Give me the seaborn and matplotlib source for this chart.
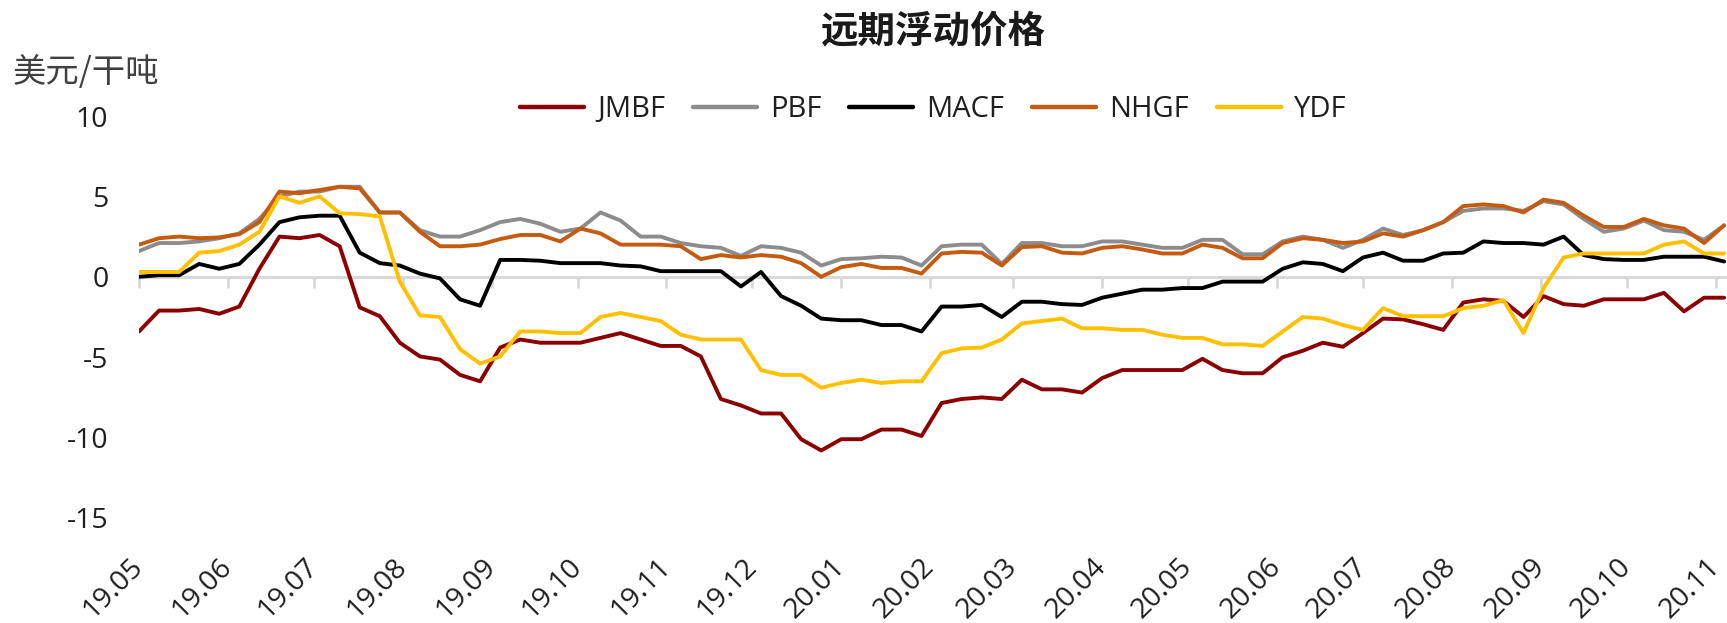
import pandas as pd
import matplotlib
matplotlib.use("Agg")
import matplotlib.pyplot as plt
import matplotlib.dates as mdates
import seaborn as sns

# ----------------------------- #
# Data (weekly readings, USD/dmt)
# ----------------------------- #
dates = pd.date_range("2019-05-01", periods=80, freq="7D")

jmbf = [-3.4, -2.1, -2.1, -2.0, -2.3, -1.85, 0.5, 2.5, 2.4, 2.6, 1.9, -1.9, -2.45, -4.1, -4.95, -5.15, -6.1, -6.5, -4.4,
        -3.9, -4.1, -4.1, -4.1, -3.8, -3.5, -3.9, -4.3, -4.3, -4.95, -7.6, -8.0, -8.5, -8.5, -10.1, -10.8, -10.1, -10.1, -9.5, -9.5,
        -9.9, -7.85, -7.6, -7.5, -7.6, -6.4, -7.0, -7.0, -7.2, -6.3, -5.8, -5.8, -5.8, -5.8, -5.1, -5.8, -6.0, -6.0, -5.0, -4.6,
        -4.1, -4.35, -3.5, -2.6, -2.65, -2.95, -3.3, -1.6, -1.4, -1.5, -2.5, -1.2, -1.7, -1.8, -1.4, -1.4, -1.4, -1.0, -2.15, -1.3, -1.3]

pbf = [1.6, 2.1, 2.1, 2.2, 2.4, 2.7, 3.6, 5.0, 5.3, 5.3, 5.6, 5.6, 4.0, 4.0, 2.9, 2.5, 2.5, 2.9, 3.4,
       3.6, 3.3, 2.8, 3.0, 4.0, 3.5, 2.5, 2.5, 2.1, 1.9, 1.8, 1.3, 1.9, 1.8, 1.5, 0.7, 1.1, 1.15, 1.25, 1.2,
       0.7, 1.9, 2.0, 2.0, 0.8, 2.1, 2.1, 1.9, 1.9, 2.2, 2.2, 2.0, 1.8, 1.8, 2.3, 2.3, 1.4, 1.4, 2.2, 2.5,
       2.3, 1.8, 2.3, 3.0, 2.6, 2.9, 3.4, 4.1, 4.25, 4.25, 4.1, 4.7, 4.5, 3.6, 2.8, 3.0, 3.5, 2.9, 2.8, 2.3, 3.2]

macf = [0.0, 0.1, 0.1, 0.8, 0.5, 0.8, 2.0, 3.4, 3.7, 3.8, 3.8, 1.5, 0.85, 0.7, 0.2, -0.1, -1.4, -1.8, 1.05,
        1.05, 1.0, 0.85, 0.85, 0.85, 0.7, 0.65, 0.35, 0.35, 0.35, 0.35, -0.6, 0.3, -1.2, -1.8, -2.6, -2.7, -2.7, -3.0, -3.0,
        -3.4, -1.85, -1.85, -1.75, -2.5, -1.55, -1.55, -1.7, -1.75, -1.3, -1.05, -0.8, -0.8, -0.7, -0.7, -0.3, -0.3, -0.3, 0.5, 0.9,
        0.8, 0.35, 1.2, 1.5, 1.0, 1.0, 1.45, 1.5, 2.2, 2.1, 2.1, 2.0, 2.5, 1.35, 1.1, 1.05, 1.05, 1.25, 1.25, 1.25, 0.95]

nhgf = [2.0, 2.4, 2.5, 2.4, 2.45, 2.65, 3.4, 5.3, 5.2, 5.4, 5.6, 5.5, 4.0, 4.0, 2.8, 1.9, 1.9, 2.0, 2.35,
        2.6, 2.6, 2.2, 3.0, 2.7, 2.0, 2.0, 2.0, 1.9, 1.1, 1.35, 1.2, 1.35, 1.25, 0.85, 0.0, 0.6, 0.8, 0.55, 0.55,
        0.2, 1.45, 1.55, 1.5, 0.7, 1.85, 1.9, 1.5, 1.45, 1.8, 1.9, 1.7, 1.45, 1.45, 2.0, 1.8, 1.15, 1.15, 2.1, 2.4,
        2.3, 2.1, 2.2, 2.7, 2.5, 2.9, 3.4, 4.4, 4.5, 4.4, 4.0, 4.8, 4.6, 3.8, 3.1, 3.1, 3.6, 3.2, 3.0, 2.1, 3.2]

ydf = [0.3, 0.3, 0.3, 1.5, 1.6, 2.0, 2.8, 5.0, 4.6, 5.0, 3.95, 3.9, 3.75, -0.3, -2.4, -2.5, -4.5, -5.4, -4.95,
       -3.4, -3.4, -3.5, -3.5, -2.5, -2.25, -2.5, -2.75, -3.6, -3.9, -3.9, -3.9, -5.8, -6.1, -6.1, -6.9, -6.6, -6.4, -6.6, -6.5,
       -6.5, -4.75, -4.45, -4.4, -3.9, -2.9, -2.75, -2.6, -3.2, -3.2, -3.3, -3.3, -3.6, -3.8, -3.8, -4.2, -4.2, -4.3, -3.4, -2.5,
       -2.6, -3.0, -3.3, -1.95, -2.45, -2.45, -2.45, -1.95, -1.8, -1.45, -3.5, -0.7, 1.2, 1.45, 1.45, 1.45, 1.45, 2.0, 2.2, 1.45, 1.45]

series_names = ["JMBF", "PBF", "MACF", "NHGF", "YDF"]
colors = ["#8B0000", "#8C8C8C", "#000000", "#C55A11", "#FFC000"]

month_ticks = pd.date_range("2019-05-01", "2020-11-01", freq="MS")
month_labels = [d.strftime("%y.%m") for d in month_ticks]
y_ticks = [-15, -10, -5, 0, 5, 10]

df = pd.DataFrame({"date": dates, "JMBF": jmbf, "PBF": pbf, "MACF": macf, "NHGF": nhgf, "YDF": ydf})
df_long = df.melt(id_vars="date", var_name="series", value_name="value")

# ----------------------------- #
# Plot
# ----------------------------- #
sns.set_style("white")
plt.rcParams["font.family"] = ["Open Sans", "Noto Sans CJK SC", "DejaVu Sans"]
plt.rcParams["axes.unicode_minus"] = False

fig = plt.figure(figsize=(17.27, 6.23), dpi=100)
ax = fig.add_axes([139 / 1727, 1 - 518 / 623, 1 - 139 / 1727, (518 - 116) / 623])

sns.lineplot(data=df_long, x="date", y="value", hue="series", hue_order=series_names,
             palette=colors, linewidth=2.8, ax=ax)

ax.set_xlim(pd.Timestamp("2019-05-01"), pd.Timestamp("2020-11-05"))
ax.set_ylim(-15, 10)
ax.set_yticks(y_ticks)
ax.set_xticks(month_ticks)
ax.set_xticklabels(month_labels, rotation=45, ha="right", va="center", rotation_mode="anchor")
ax.tick_params(axis="x", length=0, pad=32, labelsize=20.5, labelcolor="#1f1f1f")
ax.tick_params(axis="y", length=0, pad=22, labelsize=20.5, labelcolor="#1f1f1f")
ax.set_xlabel("")
ax.set_ylabel("")
ax.grid(False)
for s in ax.spines.values():
    s.set_visible(False)

# zero line with monthly tick marks
sec = ax.secondary_xaxis(0, transform=ax.transData)
sec.set_xticks(mdates.date2num(month_ticks))
sec.tick_params(axis="x", length=8, width=2, color="#D9D9D9", labelbottom=False)
sec.spines["bottom"].set_color("#D9D9D9")
sec.spines["bottom"].set_linewidth(2.2)
sec.set_zorder(0.5)

handles, labels = ax.get_legend_handles_labels()
leg = ax.legend(handles, labels, loc="center", bbox_to_anchor=(0.5, 1.015), ncol=5, frameon=False,
                fontsize=21, handlelength=2.2, handletextpad=0.45, columnspacing=0.95)
for line in leg.get_lines():
    line.set_linewidth(3.2)
for t in leg.get_texts():
    t.set_color("#1f1f1f")

ax.text(0.5, 1.211, "远期浮动价格", transform=ax.transAxes, ha="center", va="center",
        fontsize=27, fontweight="bold", family=["Noto Sans CJK SC"], color="#1a1a1a")
fig.text(13 / 1727, 1 - 72 / 623, "美元/干吨", ha="left", va="center",
         fontsize=24, color="#404040", family=["Noto Sans CJK SC"])

fig.savefig("out.png", dpi=100)
plt.close(fig)
